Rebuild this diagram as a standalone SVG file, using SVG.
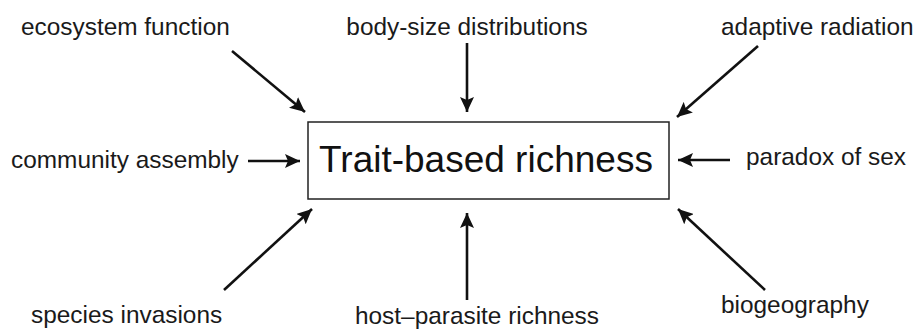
<svg xmlns="http://www.w3.org/2000/svg" width="919" height="330" viewBox="0 0 919 330">
  <style>
    .lbl { font-family: "Liberation Sans", Arial, sans-serif; font-size: 24.4px; fill: #1a1a1a; }
    .main { font-family: "Liberation Sans", Arial, sans-serif; font-size: 37px; fill: #111; }
    .box { fill: #fff; stroke: #222; stroke-width: 1.5; }
    .arr { stroke: #111; stroke-width: 2.6; fill: none; marker-end: url(#head); }
  </style>
  <defs>
    <marker id="head" markerUnits="userSpaceOnUse" markerWidth="16" markerHeight="14" refX="15" refY="7" orient="auto">
      <path d="M0,0 L15,7 L0,14 L3,7 Z" fill="#111"/>
    </marker>
  </defs>
  <rect width="919" height="330" fill="#fff"/>

  <g id="center">
    <rect class="box" x="308" y="122" width="361" height="77"/>
    <text class="main" x="486" y="172" text-anchor="middle">Trait-based richness</text>
  </g>

  <g id="ecosystem-function"><text class="lbl" x="21" y="35">ecosystem function</text></g>
  <g id="body-size-distributions"><text class="lbl" x="467" y="35" text-anchor="middle">body-size distributions</text></g>
  <g id="adaptive-radiation"><text class="lbl" x="721" y="35">adaptive radiation</text></g>
  <g id="community-assembly"><text class="lbl" x="11" y="168">community assembly</text></g>
  <g id="paradox-of-sex"><text class="lbl" x="746" y="165">paradox of sex</text></g>
  <g id="species-invasions"><text class="lbl" x="31" y="323">species invasions</text></g>
  <g id="host-parasite-richness"><text class="lbl" x="477" y="324" text-anchor="middle">host–parasite richness</text></g>
  <g id="biogeography"><text class="lbl" x="721" y="313">biogeography</text></g>

  <g id="connectors">
    <line class="arr" x1="232" y1="51" x2="305" y2="112"/>
    <line class="arr" x1="467" y1="43" x2="467" y2="112"/>
    <line class="arr" x1="758" y1="46" x2="677" y2="117"/>
    <line class="arr" x1="248" y1="161" x2="300" y2="161"/>
    <line class="arr" x1="730" y1="160" x2="678" y2="160"/>
    <line class="arr" x1="224" y1="290" x2="312" y2="209"/>
    <line class="arr" x1="467" y1="300" x2="467" y2="213"/>
    <line class="arr" x1="765" y1="290" x2="678" y2="209"/>
  </g>
</svg>
